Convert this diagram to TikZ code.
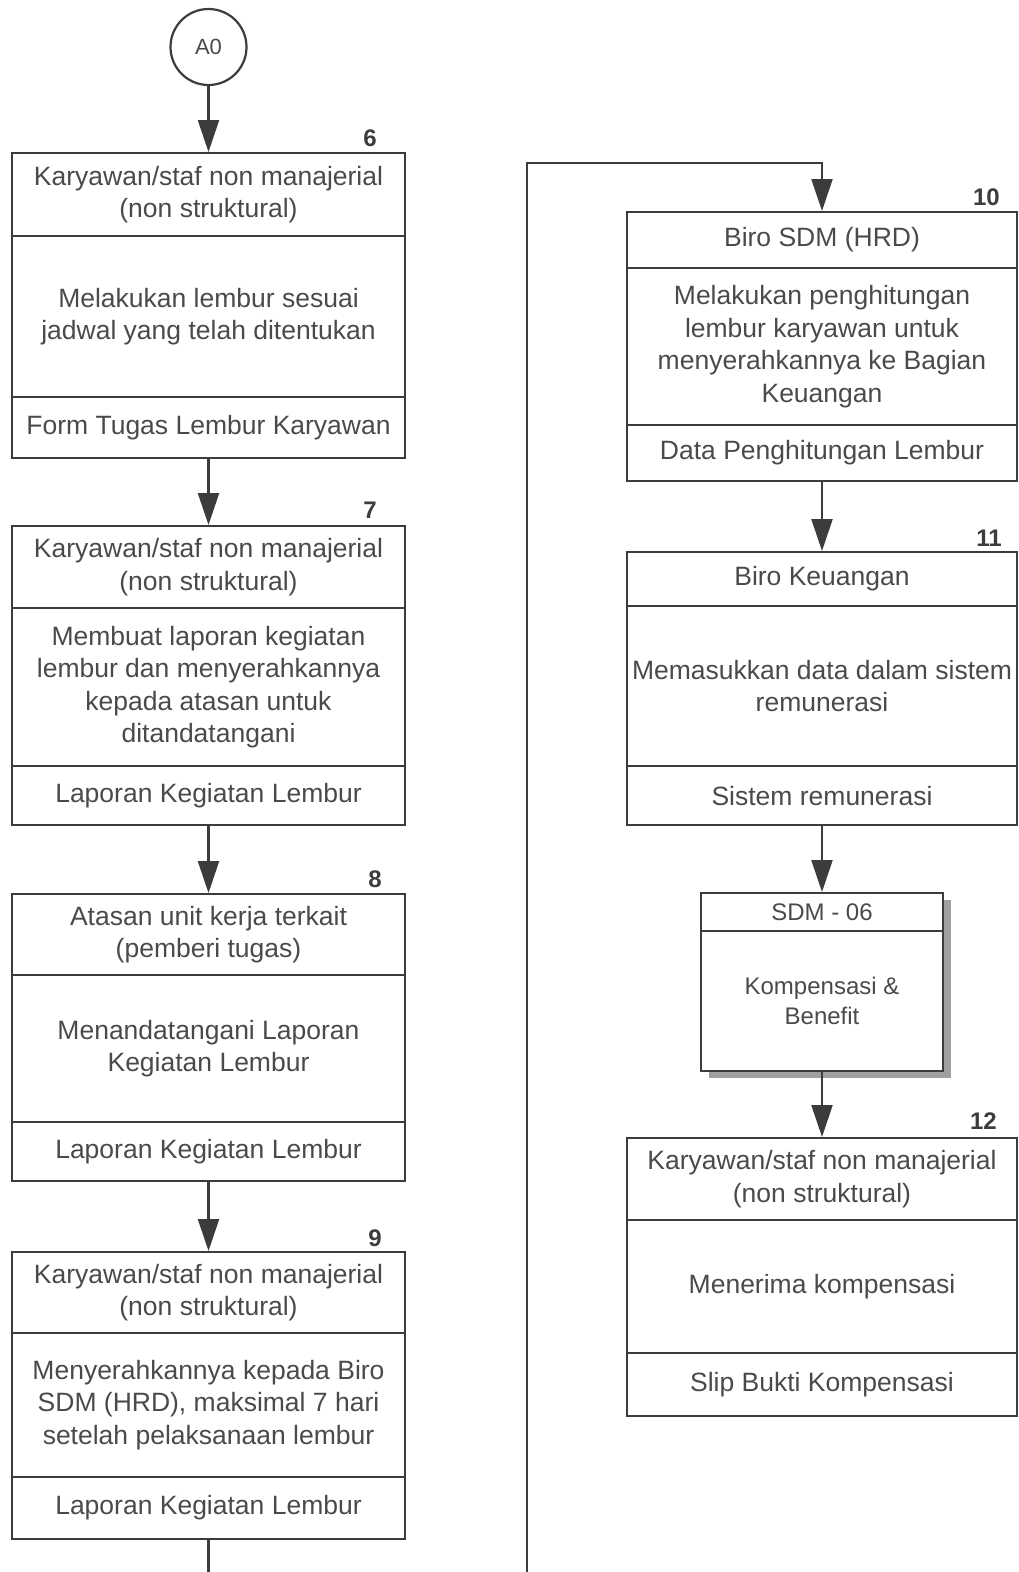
\documentclass[tikz,border=0pt]{standalone}
\usepackage{fontspec}
\setmainfont{Liberation Sans}
\usetikzlibrary{arrows.meta}
\definecolor{linec}{HTML}{3C3C3C}
\definecolor{txtc}{HTML}{4A4A4A}
\definecolor{shadowc}{HTML}{A0A0A0}
\begin{document}
\begin{tikzpicture}[x=1pt,y=-1pt,
  part/.style={draw=linec, line width=2.2pt, align=center, inner sep=0pt, text=txtc,
               font=\fontsize{26.5}{32.5}\selectfont, anchor=north},
  lpart/.style={part, minimum width=393pt},
  rpart/.style={part, minimum width=390pt},
  spart/.style={part, fill=white, minimum width=242pt, font=\fontsize{24}{30}\selectfont},
  num/.style={text=linec, font=\fontsize{24}{28}\selectfont\bfseries, anchor=base east, inner sep=0pt},
  arr/.style={draw=linec, line width=2.2pt, -{Triangle[length=32pt,width=21pt]}},
  conn/.style={draw=linec, line width=2.2pt}]
\useasboundingbox (0,0) rectangle (1019,1572);

% start connector
\node[draw=linec, line width=2.2pt, circle, minimum size=76pt, inner sep=0pt, text=txtc,
      font=\fontsize{22}{26}\selectfont] (a0) at (208.5,47) {A0};

% ---- Box 6
\node[lpart, minimum height=83pt] (b6h) at (208.5,152) {Karyawan/staf non manajerial\\(non struktural)};
\node[lpart, minimum height=161pt] (b6b) at (208.5,235) {Melakukan lembur sesuai\\jadwal yang telah ditentukan};
\node[lpart, minimum height=61pt] (b6f) at (208.5,396) {Form Tugas Lembur Karyawan};
\node[num] (n6) at (377,146) {6};

% ---- Box 7
\node[lpart, minimum height=82pt] (b7h) at (208.5,525) {Karyawan/staf non manajerial\\(non struktural)};
\node[lpart, minimum height=158pt] (b7b) at (208.5,607) {Membuat laporan kegiatan\\lembur dan menyerahkannya\\kepada atasan untuk\\ditandatangani};
\node[lpart, minimum height=59pt] (b7f) at (208.5,765) {Laporan Kegiatan Lembur};
\node[num] (n7) at (377,518) {7};

% ---- Box 8
\node[lpart, minimum height=81pt] (b8h) at (208.5,893) {Atasan unit kerja terkait\\(pemberi tugas)};
\node[lpart, minimum height=147pt] (b8b) at (208.5,974) {Menandatangani Laporan\\Kegiatan Lembur};
\node[lpart, minimum height=59pt] (b8f) at (208.5,1121) {Laporan Kegiatan Lembur};
\node[num] (n8) at (382,887) {8};

% ---- Box 9
\node[lpart, minimum height=81pt] (b9h) at (208.5,1251) {Karyawan/staf non manajerial\\(non struktural)};
\node[lpart, minimum height=144pt] (b9b) at (208.5,1332) {Menyerahkannya kepada Biro\\SDM (HRD), maksimal 7 hari\\setelah pelaksanaan lembur};
\node[lpart, minimum height=62pt] (b9f) at (208.5,1476) {Laporan Kegiatan Lembur};
\node[num] (n9) at (382,1246) {9};

% ---- Box 10
\node[rpart, minimum height=56pt] (b10h) at (822,211) {Biro SDM (HRD)};
\node[rpart, minimum height=157pt] (b10b) at (822,267) {Melakukan penghitungan\\lembur karyawan untuk\\menyerahkannya ke Bagian\\Keuangan};
\node[rpart, minimum height=56pt] (b10f) at (822,424) {Data Penghitungan Lembur};
\node[num] (n10) at (1000,205) {10};

% ---- Box 11
\node[rpart, minimum height=54pt] (b11h) at (822,551) {Biro Keuangan};
\node[rpart, minimum height=160pt] (b11b) at (822,605) {Memasukkan data dalam sistem\\remunerasi};
\node[rpart, minimum height=59pt] (b11f) at (822,765) {Sistem remunerasi};
\node[num] (n11) at (1002,546) {11};

% ---- SDM - 06 (sub-process with shadow)
\node[fill=shadowc, minimum width=242pt, minimum height=178pt, inner sep=0pt, anchor=north] (sdmsh) at (830,900) {};
\node[spart, minimum height=38pt] (sdmh) at (822,892) {SDM - 06};
\node[spart, minimum height=140pt] (sdmb) at (822,930) {Kompensasi \&\\Benefit};

% ---- Box 12
\node[rpart, minimum height=82pt] (b12h) at (822,1137) {Karyawan/staf non manajerial\\(non struktural)};
\node[rpart, minimum height=133pt] (b12b) at (822,1219) {Menerima kompensasi};
\node[rpart, minimum height=63pt] (b12f) at (822,1352) {Slip Bukti Kompensasi};
\node[num] (n12) at (997,1129) {12};

% ---- connectors
\draw[arr] (a0.south) -- (b6h.north);
\draw[arr] (b6f.south) -- (b7h.north);
\draw[arr] (b7f.south) -- (b8h.north);
\draw[arr] (b8f.south) -- (b9h.north);
\coordinate (endL) at (208.5,1572);
\draw[conn] (b9f.south) -- (endL);
\coordinate (endR) at (527,1572);
\coordinate (turn) at (527,163);
\draw[arr] (endR) -- (turn) -| (b10h.north);
\draw[arr] (b10f.south) -- (b11h.north);
\draw[arr] (b11f.south) -- (sdmh.north);
\draw[arr] (sdmb.south) -- (b12h.north);
\end{tikzpicture}
\end{document}
